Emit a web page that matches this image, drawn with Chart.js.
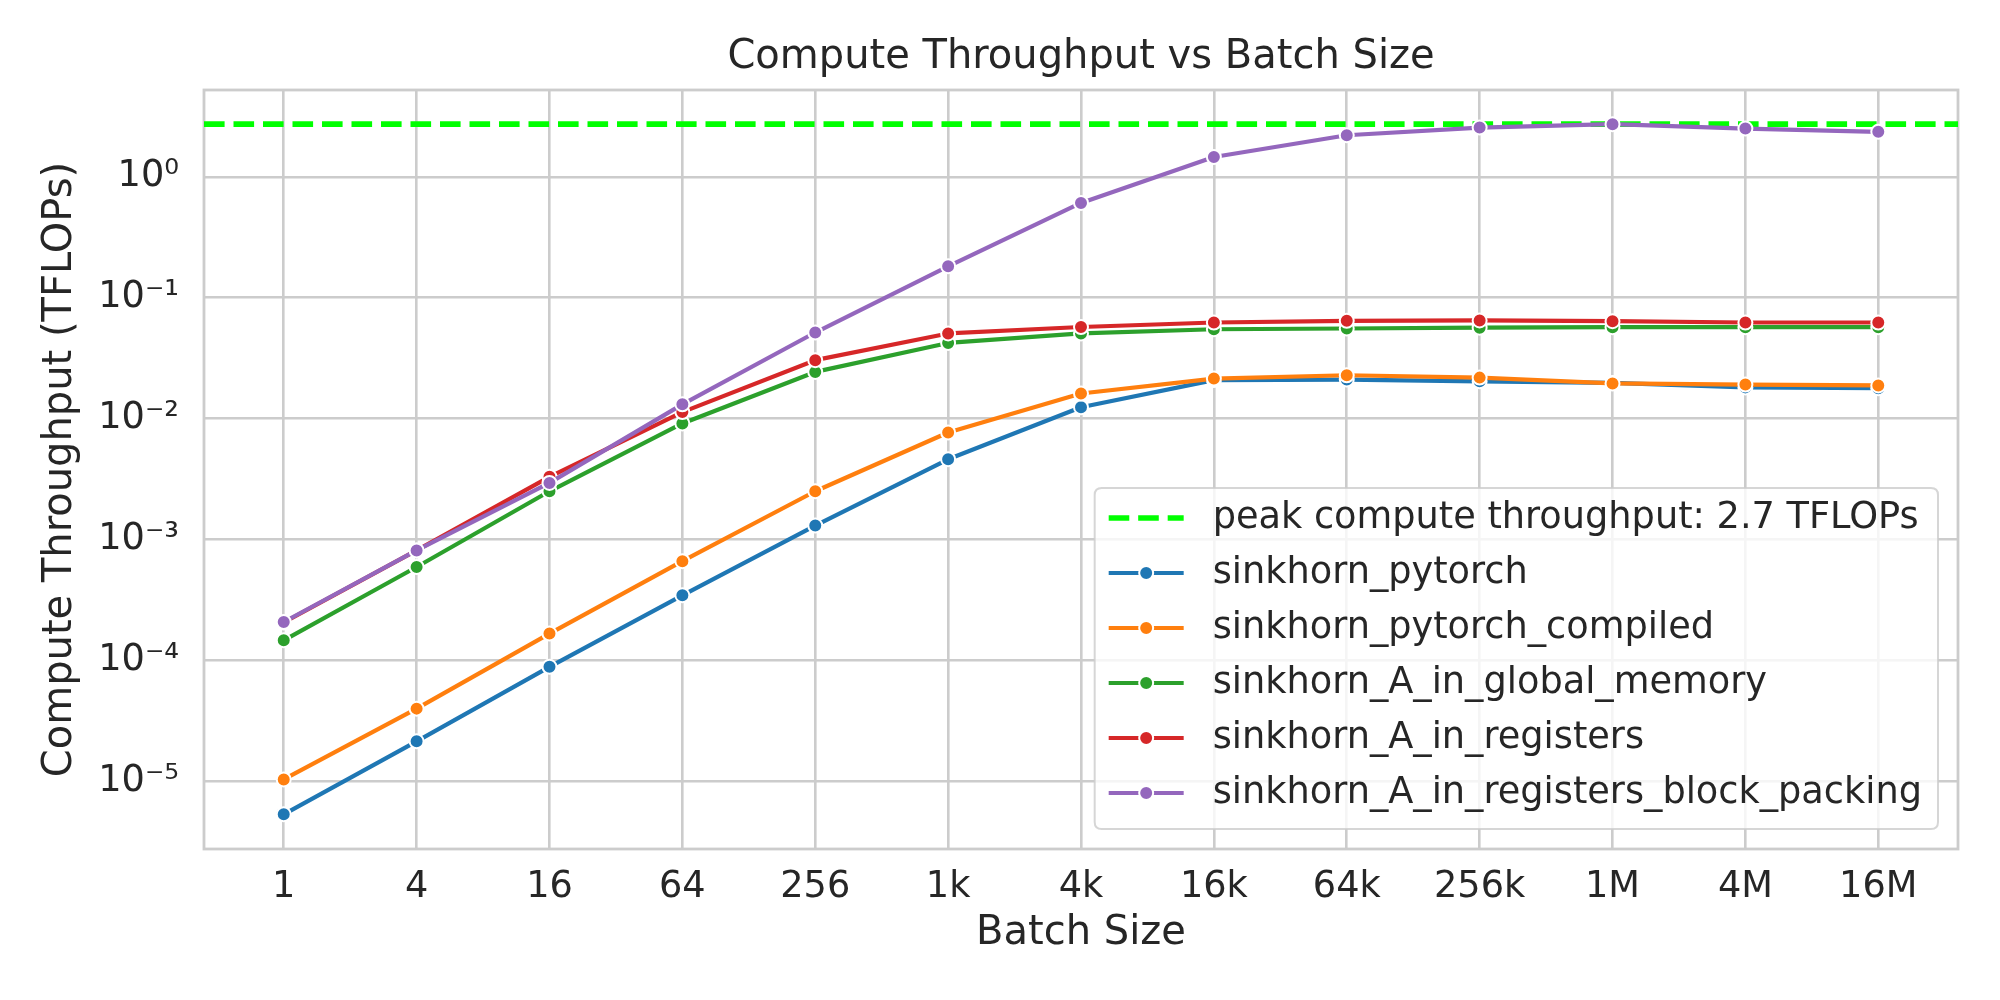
<!DOCTYPE html>
<html>
<head>
<meta charset="utf-8">
<script src="https://cdn.jsdelivr.net/npm/chart.js@4/dist/chart.umd.min.js"></script>
<style>
  html, body { margin: 0; padding: 0; background: #ffffff; }
  #wrap { width: 2000px; height: 1000px; }
</style>
</head>
<body>
<div id="wrap"><canvas id="c" width="2000" height="1000"></canvas></div>
<script>
// ---------------- data ----------------
const BATCH_LABELS = ['1', '4', '16', '64', '256', '1k', '4k', '16k', '64k', '256k', '1M', '4M', '16M'];

const SINKHORN_PYTORCH = [5.3e-6, 2.13e-5, 8.8e-5, 3.44e-4, 1.30e-3, 4.60e-3, 1.24e-2, 2.08e-2, 2.10e-2, 2.03e-2, 1.97e-2, 1.81e-2, 1.78e-2];
const SINKHORN_PYTORCH_COMPILED = [1.03e-5, 3.97e-5, 1.66e-4, 6.6e-4, 2.50e-3, 7.66e-3, 1.61e-2, 2.14e-2, 2.28e-2, 2.18e-2, 1.95e-2, 1.91e-2, 1.88e-2];
const SINKHORN_A_IN_GLOBAL_MEMORY = [1.46e-4, 5.9e-4, 2.50e-3, 9.1e-3, 2.43e-2, 4.22e-2, 5.06e-2, 5.48e-2, 5.56e-2, 5.65e-2, 5.70e-2, 5.70e-2, 5.70e-2];
const SINKHORN_A_IN_REGISTERS = [2.05e-4, 8.1e-4, 3.29e-3, 1.13e-2, 3.04e-2, 5.06e-2, 5.72e-2, 6.23e-2, 6.43e-2, 6.48e-2, 6.39e-2, 6.23e-2, 6.23e-2];
const SINKHORN_A_IN_REGISTERS_BLOCK_PACKING = [2.07e-4, 8.1e-4, 2.93e-3, 1.31e-2, 5.15e-2, 0.182, 0.609, 1.46, 2.21, 2.56, 2.73, 2.51, 2.36];

const PEAK_TFLOPS = 2.73;
const PEAK_LABEL = 'peak compute throughput: 2.7 TFLOPs';

const SERIES_NAMES = ['sinkhorn_pytorch', 'sinkhorn_pytorch_compiled', 'sinkhorn_A_in_global_memory', 'sinkhorn_A_in_registers', 'sinkhorn_A_in_registers_block_packing'];
const SERIES_VALUES = [SINKHORN_PYTORCH, SINKHORN_PYTORCH_COMPILED, SINKHORN_A_IN_GLOBAL_MEMORY, SINKHORN_A_IN_REGISTERS, SINKHORN_A_IN_REGISTERS_BLOCK_PACKING];
const SERIES_COLORS = ['#1f77b4', '#ff7f0e', '#2ca02c', '#d62728', '#9467bd'];

const Y_TICK_EXPONENTS = [-5, -4, -3, -2, -1, 0];
const Y_TICK_LABELS = ['10\u207B\u2075', '10\u207B\u2074', '10\u207B\u00B3', '10\u207B\u00B2', '10\u207B\u00B9', '10\u2070'];

// axis ranges (matplotlib-style 5% margins)
const X_MIN = -0.6, X_MAX = 12.6;
const Y_MIN = Math.pow(10, -5.563), Y_MAX = Math.pow(10, 0.719);

// ---------------- style ----------------
const TEXT = '#262626';
const GRID = '#cccccc';
const FONT = "'DejaVu Sans', sans-serif";
Chart.defaults.font.family = FONT;
Chart.defaults.color = TEXT;

const datasets = [];
datasets.push({
  label: PEAK_LABEL,
  data: [{ x: X_MIN, y: PEAK_TFLOPS }, { x: X_MAX, y: PEAK_TFLOPS }],
  borderColor: '#00ff00',
  backgroundColor: '#00ff00',
  borderWidth: 5.6,
  borderDash: [20.6, 8.9],
  borderCapStyle: 'butt',
  pointRadius: 0,
  order: 10,
  isPeak: true
});
SERIES_NAMES.forEach((name, k) => {
  datasets.push({
    label: name,
    data: SERIES_VALUES[k].map((v, i) => ({ x: i, y: v })),
    borderColor: SERIES_COLORS[k],
    backgroundColor: SERIES_COLORS[k],
    borderWidth: 4.2,
    borderJoinStyle: 'round',
    tension: 0,
    pointRadius: 7,
    pointBorderWidth: 2,
    pointBorderColor: '#ffffff',
    pointBackgroundColor: SERIES_COLORS[k],
    order: 5 - k
  });
});

const framePlugin = {
  id: 'frame',
  beforeDatasetsDraw(chart) {
    const { ctx, chartArea: a } = chart;
    ctx.save();
    ctx.strokeStyle = GRID;
    ctx.lineWidth = 2.8;
    ctx.strokeRect(a.left, a.top, a.right - a.left, a.bottom - a.top);
    ctx.restore();
  }
};

function roundRect(ctx, x, y, w, h, r) {
  ctx.beginPath();
  ctx.moveTo(x + r, y);
  ctx.lineTo(x + w - r, y);
  ctx.quadraticCurveTo(x + w, y, x + w, y + r);
  ctx.lineTo(x + w, y + h - r);
  ctx.quadraticCurveTo(x + w, y + h, x + w - r, y + h);
  ctx.lineTo(x + r, y + h);
  ctx.quadraticCurveTo(x, y + h, x, y + h - r);
  ctx.lineTo(x, y + r);
  ctx.quadraticCurveTo(x, y, x + r, y);
  ctx.closePath();
}

const legendPlugin = {
  id: 'cornerLegend',
  afterDraw(chart) {
    const { ctx, chartArea: a } = chart;
    const items = chart.data.datasets;
    ctx.save();
    ctx.font = '36.7px ' + FONT;
    const maxW = Math.max(...items.map(d => ctx.measureText(d.label).width));
    const rowH = 55, padTop = 30, padBottom = 36;
    const handleX = 14, handleLen = 75, textX = 118;
    const w = textX + maxW + 16;
    const h = padTop + rowH * (items.length - 1) + padBottom;
    const x0 = a.right - 20 - w;
    const y0 = a.bottom - 20 - h;
    roundRect(ctx, x0, y0, w, h, 7);
    ctx.fillStyle = 'rgba(255,255,255,0.8)';
    ctx.fill();
    ctx.strokeStyle = 'rgba(204,204,204,0.8)';
    ctx.lineWidth = 2;
    ctx.stroke();
    items.forEach((d, i) => {
      const cy = y0 + padTop + i * rowH;
      ctx.save();
      ctx.strokeStyle = d.borderColor;
      ctx.lineWidth = d.borderWidth;
      ctx.lineCap = 'butt';
      ctx.setLineDash(d.borderDash || []);
      ctx.beginPath();
      ctx.moveTo(x0 + handleX, cy);
      ctx.lineTo(x0 + handleX + handleLen, cy);
      ctx.stroke();
      ctx.restore();
      if (d.pointRadius > 0) {
        ctx.beginPath();
        ctx.arc(x0 + handleX + handleLen / 2, cy, d.pointRadius, 0, Math.PI * 2);
        ctx.fillStyle = d.pointBackgroundColor;
        ctx.fill();
        ctx.strokeStyle = '#ffffff';
        ctx.lineWidth = d.pointBorderWidth;
        ctx.stroke();
      }
      ctx.fillStyle = TEXT;
      ctx.textAlign = 'left';
      ctx.textBaseline = 'middle';
      ctx.fillText(d.label, x0 + textX, cy);
    });
    ctx.restore();
  }
};

new Chart(document.getElementById('c'), {
  type: 'line',
  data: { datasets },
  options: {
    responsive: false,
    devicePixelRatio: 1,
    animation: false,
    layout: { padding: { left: 0, right: 42, top: 0, bottom: 0 } },
    plugins: {
      legend: { display: false },
      tooltip: { enabled: false },
      title: {
        display: true,
        text: 'Compute Throughput vs Batch Size',
        fullSize: false,
        color: TEXT,
        font: { size: 40, weight: 'normal', family: FONT },
        padding: { top: 34, bottom: 8 }
      }
    },
    scales: {
      x: {
        type: 'linear',
        min: X_MIN,
        max: X_MAX,
        afterBuildTicks: ax => { ax.ticks = BATCH_LABELS.map((_, i) => ({ value: i })); },
        afterFit: ax => { ax.height = 151; },
        ticks: {
          autoSkip: false,
          maxRotation: 0,
          padding: 16,
          color: TEXT,
          font: { size: 36.7, family: FONT },
          callback: v => BATCH_LABELS[Math.round(v)] ?? ''
        },
        grid: { color: GRID, lineWidth: 2.6, drawTicks: false },
        border: { display: false },
        title: {
          display: true,
          text: 'Batch Size',
          color: TEXT,
          font: { size: 40, family: FONT },
          padding: { top: 0, bottom: 42 }
        }
      },
      y: {
        type: 'logarithmic',
        min: Y_MIN,
        max: Y_MAX,
        afterBuildTicks: ax => { ax.ticks = Y_TICK_EXPONENTS.map(e => ({ value: Math.pow(10, e) })); },
        afterFit: ax => { ax.width = 204; },
        ticks: {
          autoSkip: false,
          padding: 25,
          color: TEXT,
          font: { size: 36.7, family: FONT },
          callback: v => {
            const idx = Y_TICK_EXPONENTS.indexOf(Math.round(Math.log10(v)));
            return idx >= 0 ? Y_TICK_LABELS[idx] : '';
          }
        },
        grid: { color: GRID, lineWidth: 2.6, drawTicks: false },
        border: { display: false },
        title: {
          display: true,
          text: 'Compute Throughput (TFLOPs)',
          color: TEXT,
          font: { size: 40, family: FONT },
          padding: { top: 37, bottom: 0 }
        }
      }
    }
  },
  plugins: [framePlugin, legendPlugin]
});
</script>
</body>
</html>
